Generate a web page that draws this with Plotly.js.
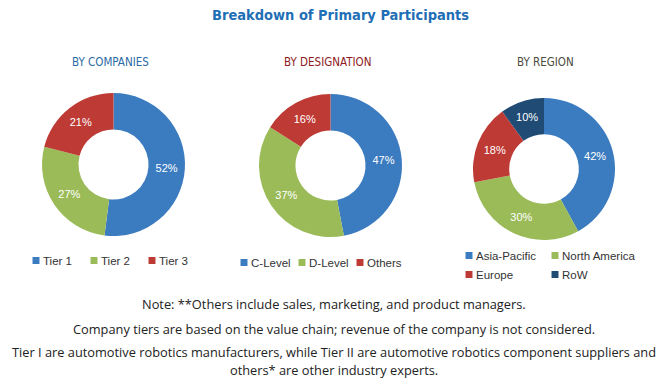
<!DOCTYPE html>
<html><head><meta charset="utf-8">
<script src="https://cdn.plot.ly/plotly-3.0.1.min.js"></script>
<style>
html,body{margin:0;padding:0;background:#fff;}
#wrap{position:relative;width:668px;height:385px;overflow:hidden;background:#fff;}
.pane{position:absolute;}
.legend .scrollbox{clip-path:none !important;}
.legendpie{transform:translate(33px,0px) scale(0.58);}
</style></head>
<body><div id="wrap">
<div id="bg" class="pane" style="left:0;top:0;width:668px;height:385px"></div>
<div id="p1" class="pane" style="left:0;top:80px;width:222px;height:220px"></div>
<div id="p2" class="pane" style="left:200px;top:80px;width:222px;height:220px"></div>
<div id="p3" class="pane" style="left:430px;top:80px;width:238px;height:220px"></div>
</div>
<script>
const chartTitle = 'Breakdown of Primary Participants';
const panelTitles = ['BY COMPANIES', 'BY DESIGNATION', 'BY REGION'];
const companyLabels = ['Tier 1', 'Tier 2', 'Tier 3'];
const companyValues = [52, 27, 21];
const designationLabels = ['C-Level', 'D-Level', 'Others'];
const designationValues = [47, 37, 16];
const regionLabels = ['Asia-Pacific', 'North America', 'Europe', 'RoW'];
const regionValues = [42, 30, 18, 10];
const noteLines = [
  'Note: **Others include sales, marketing, and product managers.',
  'Company tiers are based on the value chain; revenue of the company is not considered.',
  'Tier I are automotive robotics manufacturers, while Tier II are automotive robotics component suppliers and',
  'others* are other industry experts.'
];

const BLUE = '#3b7bbf', GREEN = '#9bbb59', RED = '#be3a34', NAVY = '#1f4b75';
const NARROW = '"Liberation Sans Narrow", "DejaVu Sans Condensed", "Arial Narrow", sans-serif';
const SANS = '"Liberation Sans", Arial, sans-serif';
const NOTE = '"Open Sans", "Liberation Sans", Arial, sans-serif';
const cfg = {staticPlot: true, displayModeBar: false};

// Background: titles and notes
const titleColors = ['#2b6aa3', '#8e1b22', '#4b4b3d'];
const titleX = [110, 327, 545];
const noteY = [304, 329, 352, 370];
const ann = [];
ann.push({text: chartTitle, x: 340 / 668, y: 1 - 15 / 385, xref: 'paper', yref: 'paper',
  xanchor: 'center', yanchor: 'middle', showarrow: false,
  font: {family: NARROW, size: 14.5, color: '#1f6fb6', weight: 'bold'}});
panelTitles.forEach((t, i) => ann.push({text: t, x: titleX[i] / 668, y: 1 - 62 / 385,
  xref: 'paper', yref: 'paper', xanchor: 'center', yanchor: 'middle', showarrow: false,
  font: {family: NARROW, size: 11.5, color: titleColors[i]}}));
noteLines.forEach((t, i) => ann.push({text: t, x: 0.5, y: 1 - noteY[i] / 385,
  xref: 'paper', yref: 'paper', xanchor: 'center', yanchor: 'middle', showarrow: false,
  font: {family: NOTE, size: 12.8, color: '#222'}}));

Plotly.newPlot('bg', [], {
  width: 668, height: 385, margin: {l: 0, r: 0, t: 0, b: 0},
  paper_bgcolor: 'rgba(0,0,0,0)', plot_bgcolor: 'rgba(0,0,0,0)',
  xaxis: {visible: false}, yaxis: {visible: false},
  annotations: ann, showlegend: false
}, cfg);

function donut(id, w, labels, values, colors, dom, leg) {
  Plotly.newPlot(id, [{
    type: 'pie', labels: labels, values: values, sort: false,
    direction: 'clockwise', rotation: 0, hole: 0.49,
    domain: dom,
    marker: {colors: colors, line: {width: 0}},
    texttemplate: '%{value}%', textposition: 'inside',
    insidetextorientation: 'horizontal',
    textfont: {family: SANS, size: 11, color: '#ffffff'},
    hoverinfo: 'none'
  }], {
    width: w, height: 220, margin: {l: 0, r: 0, t: 0, b: 0},
    paper_bgcolor: 'rgba(0,0,0,0)', plot_bgcolor: 'rgba(0,0,0,0)',
    showlegend: true,
    legend: Object.assign({orientation: 'h', xanchor: 'left', yanchor: 'top',
      bgcolor: 'rgba(0,0,0,0)', borderwidth: 0, entrywidthmode: 'pixels',
      font: {family: SANS, size: 11.5, color: '#333'}}, leg)
  }, cfg);
}

donut('p1', 222, companyLabels, companyValues, [BLUE, GREEN, RED],
  {x: [42 / 222, 185 / 222], y: [1 - 156 / 220, 1 - 13 / 220]},
  {x: 3 / 222, y: 1 - 166 / 220, entrywidth: 13});
donut('p2', 222, designationLabels, designationValues, [BLUE, GREEN, RED],
  {x: [59 / 222, 202 / 222], y: [1 - 157 / 220, 1 - 14 / 220]},
  {x: 11 / 222, y: 1 - 168 / 220, entrywidth: 13});
donut('p3', 238, regionLabels, regionValues, [BLUE, GREEN, RED, NAVY],
  {x: [43 / 238, 185 / 238], y: [1 - 160 / 220, 1 - 18 / 220]},
  {x: 6 / 238, y: 1 - 161 / 220, entrywidth: 41});
</script>
</body></html>
